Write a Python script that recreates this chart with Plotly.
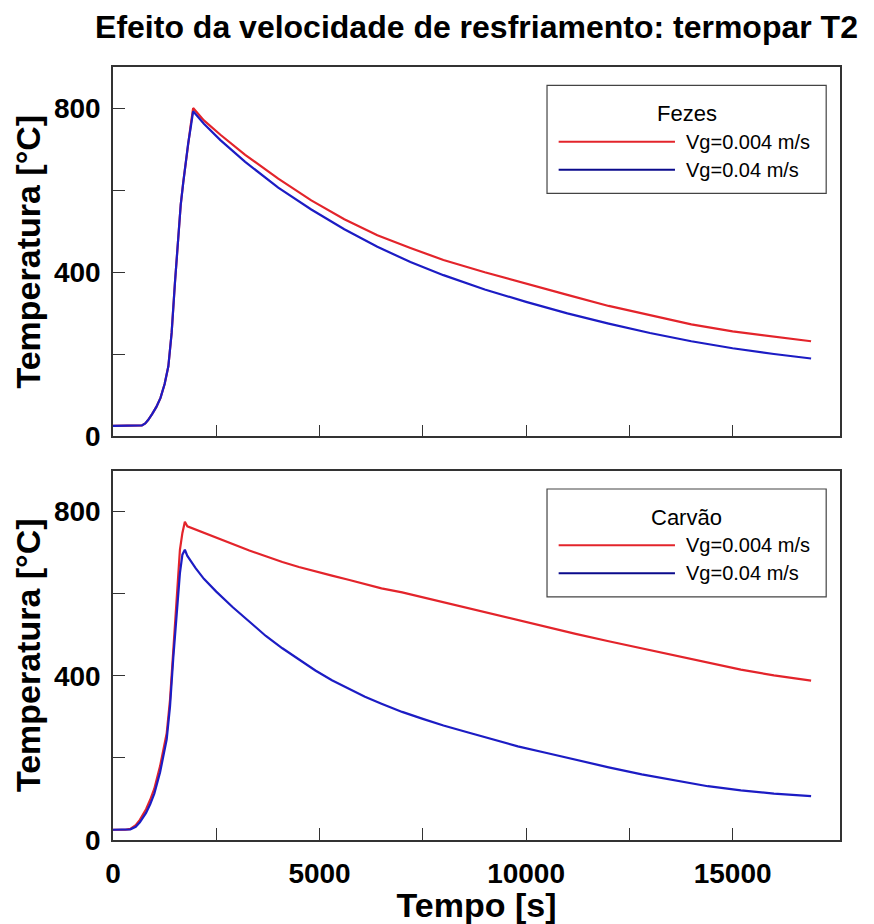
import plotly.graph_objects as go
from plotly.subplots import make_subplots

# ---- data ----
fezes_time = [0, 650, 700, 780, 850, 950, 1050, 1150, 1250, 1340, 1420, 1500, 1580, 1640, 1700,
              1760, 1820, 1880, 1940, 2200, 2600, 3200, 4000, 4800, 5600, 6400, 7200,
              8000, 9000, 10000, 11000, 12000, 13000, 14000, 15000, 16000, 16900]
fezes_vg004 = [26, 26, 27, 32, 40, 55, 72, 94, 128, 171, 253, 375, 495, 565, 619,
               670, 716, 758, 800, 770, 735, 686, 628, 575, 529, 490, 459,
               430, 400, 372, 345, 318, 295, 273, 256, 243, 232]
fezes_vg04 = [26, 26, 27, 32, 40, 55, 72, 94, 128, 171, 253, 375, 495, 565, 618,
              668, 714, 752, 792, 762, 722, 669, 606, 553, 505, 462, 425,
              393, 358, 328, 300, 275, 252, 232, 215, 201, 190]

carvao_time = [0, 300, 420, 550, 650, 800, 900, 1000, 1140, 1300, 1380, 1460, 1540, 1620,
               1680, 1740, 1800, 1900, 2000, 2200, 2500, 2900, 3300, 3700, 4100, 4500,
               4900, 5300, 5700, 6100, 6500, 7000, 7500, 8000, 8600, 9200, 9800, 10500,
               11200, 12000, 12800, 13600, 14400, 15200, 16000, 16900]
carvao_vg004 = [25, 25, 27, 36, 49, 75, 98, 125, 180, 260, 341, 463, 585, 707,
                748, 775, 764, 760, 756, 748, 737, 721, 705, 691, 677, 665,
                654, 644, 634, 623, 613, 603, 591, 579, 565, 550, 535, 518,
                502, 484, 467, 450, 432, 415, 401, 388]
carvao_vg04 = [25, 25, 26, 32, 43, 66, 87, 113, 165, 245, 325, 445, 555, 650,
               695, 707, 692, 676, 662, 636, 605, 567, 531, 497, 467, 439,
               413, 389, 368, 349, 332, 312, 295, 279, 262, 245, 228, 212,
               195, 177, 160, 146, 131, 121, 113, 107]

series_names = ["Vg=0.004 m/s", "Vg=0.04 m/s"]
series_colors = ["#e3242b", "#1c1cc4"]
legend_line_colors = ["#e3242b", "#0a0a8c"]
panel_titles = ["Fezes", "Carvão"]

x_tick_vals = [0, 2500, 5000, 7500, 10000, 12500, 15000]
x_tick_text = ["0", "", "5000", "", "10000", "", "15000"]
y_tick_vals = [0, 200, 400, 600, 800]
y_tick_text = ["0", "", "400", "", "800"]

title_text = "Efeito da velocidade de resfriamento: termopar T2"
x_title = "Tempo [s]"
y_title = "Temperatura [°C]"

# ---- figure ----
FONT = "Liberation Sans, Arial, Helvetica, sans-serif"
fig = make_subplots(rows=2, cols=1, shared_xaxes=False, vertical_spacing=0.044)

panels = [(fezes_time, [fezes_vg004, fezes_vg04]), (carvao_time, [carvao_vg004, carvao_vg04])]
for r, (t, ys) in enumerate(panels, start=1):
    for name, color, y in zip(series_names, series_colors, ys):
        fig.add_trace(go.Scatter(x=t, y=y, mode="lines", name=name,
                                 line=dict(color=color, width=2.2),
                                 showlegend=False), row=r, col=1)

bold_tick = dict(family=FONT, size=28, color="black", weight="bold")
fig.update_xaxes(range=[0, 17600], tickvals=x_tick_vals, ticktext=x_tick_text,
                 ticks="inside", ticklen=12, tickwidth=1.3, tickcolor="#333",
                 showline=True, linecolor="#333", linewidth=1.5, mirror=True,
                 showgrid=False, zeroline=False, automargin=False,
                 ticklabelstandoff=8, tickfont=bold_tick)
fig.update_xaxes(showticklabels=False, row=1, col=1)
fig.update_xaxes(title=dict(text=x_title, standoff=0,
                            font=dict(family=FONT, size=34, color="black", weight="bold")),
                 row=2, col=1)
fig.update_yaxes(range=[0, 900], tickvals=y_tick_vals, ticktext=y_tick_text,
                 ticks="inside", ticklen=12, tickwidth=1.3, tickcolor="#333",
                 showline=True, linecolor="#333", linewidth=1.5, mirror=True,
                 showgrid=False, zeroline=False, automargin=False,
                 ticklabelstandoff=5, tickfont=bold_tick,
                 title=dict(text=y_title, standoff=3,
                            font=dict(family=FONT, size=34, color="black", weight="bold")))

fig.update_layout(
    width=874, height=924,
    margin=dict(l=113, r=34, t=67, b=84),
    plot_bgcolor="white", paper_bgcolor="white",
    font=dict(family=FONT, color="black"),
    title=dict(text=title_text, x=0.5, xref="paper", xanchor="center",
               y=1 - 27 / 924, yanchor="middle",
               font=dict(family=FONT, size=32, color="black", weight="bold")),
)

# custom legend boxes (long line samples as in the reference)
for r, ptitle in enumerate(panel_titles, start=1):
    xr = "x domain" if r == 1 else "x2 domain"
    yr = "y domain" if r == 1 else "y2 domain"
    fig.add_shape(type="rect", xref=xr, yref=yr, x0=0.597, x1=0.981, y0=0.658, y1=0.95,
                  line=dict(color="#444", width=1.2), fillcolor="white", layer="above")
    fig.add_annotation(xref=xr, yref=yr, x=0.789, y=0.873, text=ptitle, showarrow=False,
                       xanchor="center", yanchor="middle",
                       font=dict(family=FONT, size=22, color="black"))
    for name, lc, yy in zip(series_names, legend_line_colors, [0.798, 0.722]):
        fig.add_shape(type="line", xref=xr, yref=yr, x0=0.613, x1=0.773, y0=yy, y1=yy,
                      line=dict(color=lc, width=2), layer="above")
        fig.add_annotation(xref=xr, yref=yr, x=0.785, y=yy, text=name, showarrow=False,
                           xanchor="left", yanchor="middle",
                           font=dict(family=FONT, size=20, color="black"))

fig.write_html("out.html")
